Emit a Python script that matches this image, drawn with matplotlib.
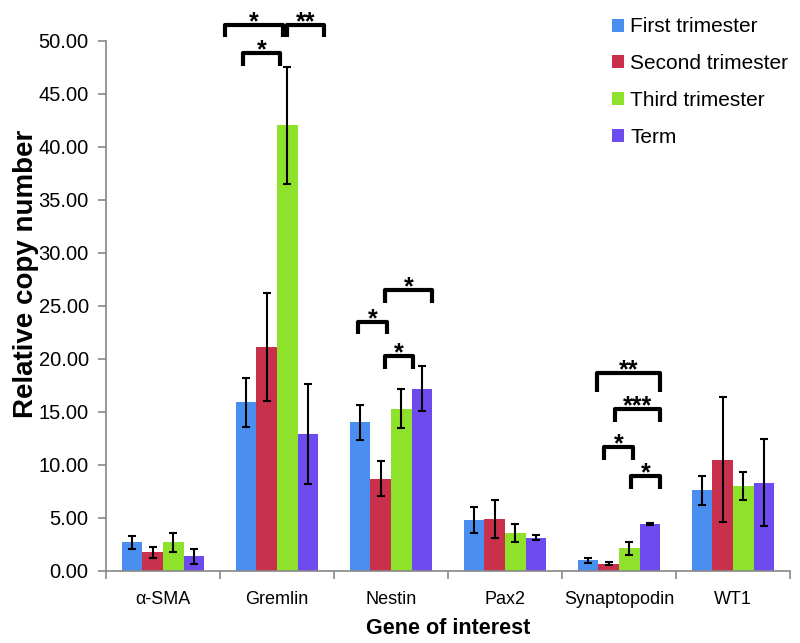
import matplotlib
matplotlib.use("Agg")
import matplotlib.pyplot as plt
import numpy as np

plt.rcParams['font.family'] = ['Liberation Sans', 'DejaVu Sans']

genes = ["α-SMA", "Gremlin", "Nestin", "Pax2", "Synaptopodin", "WT1"]
series = ["First trimester", "Second trimester", "Third trimester", "Term"]
colors = ["#4a8ff0", "#c8304c", "#8fe22b", "#6d4bee"]

first = [2.7, 15.9, 14.0, 4.8, 1.0, 7.6]
second = [1.75, 21.1, 8.7, 4.9, 0.7, 10.5]
third = [2.7, 42.0, 15.3, 3.55, 2.15, 8.0]
term = [1.4, 12.9, 17.2, 3.15, 4.45, 8.3]

first_err = [0.6, 2.3, 1.65, 1.2, 0.27, 1.35]
second_err = [0.55, 5.1, 1.65, 1.8, 0.15, 5.9]
third_err = [0.9, 5.5, 1.85, 0.85, 0.6, 1.35]
term_err = [0.7, 4.7, 2.1, 0.2, 0.1, 4.1]

values = [first, second, third, term]
errors = [first_err, second_err, third_err, term_err]

# significance brackets: (x_left, x_right, y_top, y_end, label)
brackets = [
    (0.544, 1.053, 51.5, 50.3, "*"),
    (0.700, 1.026, 48.8, 47.6, "*"),
    (1.088, 1.412, 51.5, 50.3, "**"),
    (1.713, 1.962, 23.5, 22.3, "*"),
    (1.947, 2.357, 26.5, 25.3, "*"),
    (1.947, 2.196, 20.25, 19.0, "*"),
    (3.804, 4.360, 18.7, 16.9, "**"),
    (3.965, 4.360, 15.3, 14.05, "***"),
    (3.868, 4.120, 11.7, 10.5, "*"),
    (4.102, 4.360, 8.95, 7.7, "*"),
]

fig = plt.figure(figsize=(8, 6.43), dpi=100)
ax = fig.add_axes([0.1325, 0.112, 0.855, 0.825])

x = np.arange(len(genes))
w = 0.182
for i, (vals, errs, c, lab) in enumerate(zip(values, errors, colors, series)):
    pos = x + (i - 1.5) * w
    ax.bar(pos, vals, width=w, color=c, label=lab, zorder=2)
    ax.errorbar(pos, vals, yerr=errs, fmt='none', ecolor='black',
                elinewidth=1.5, capsize=3, capthick=1.5, zorder=3)

for xl, xr, yt, ye, lab in brackets:
    ax.plot([xl, xl, xr, xr], [ye, yt, yt, ye], color='black', lw=3.0,
            solid_joinstyle='round', solid_capstyle='butt', clip_on=False, zorder=4)
    ax.text((xl + xr) / 2, yt - 0.4, lab, ha='center', va='baseline',
            fontsize=18, fontweight='bold', clip_on=False)

ax.set_xlim(-0.5, len(genes) - 0.5)
ax.set_ylim(0, 50)
yt_vals = np.arange(0, 50.1, 5)
ax.set_yticks(yt_vals)
ax.set_yticklabels([f"{v:.2f}" for v in yt_vals], fontsize=14.5)
ax.set_xticks(x)
ax.set_xticklabels(genes, fontsize=13)
ax.tick_params(axis='x', length=0, pad=14.5)
ax.set_xticks(np.arange(-0.5, len(genes), 1), minor=True)
ax.tick_params(axis='x', which='minor', length=6, color='#888888', width=1.2)
ax.tick_params(axis='y', length=6, color='#888888', width=1.2, pad=6.5)

for s in ['top', 'right']:
    ax.spines[s].set_visible(False)
for s in ['left', 'bottom']:
    ax.spines[s].set_color('#888888')
    ax.spines[s].set_linewidth(1.2)

ax.set_ylabel("Relative copy number", fontsize=20, fontweight='bold')
ax.yaxis.set_label_coords(-0.098, 0.56)
ax.set_xlabel("Gene of interest", fontsize=15.5, fontweight='bold')
ax.xaxis.set_label_coords(0.5, -0.089)

fig.legend(loc='upper left', bbox_to_anchor=(0.741, 1.002), frameon=False,
           fontsize=15, handlelength=0.6, handleheight=0.6, handletextpad=0.3,
           labelspacing=0.85)

fig.savefig("out.png", dpi=100)
